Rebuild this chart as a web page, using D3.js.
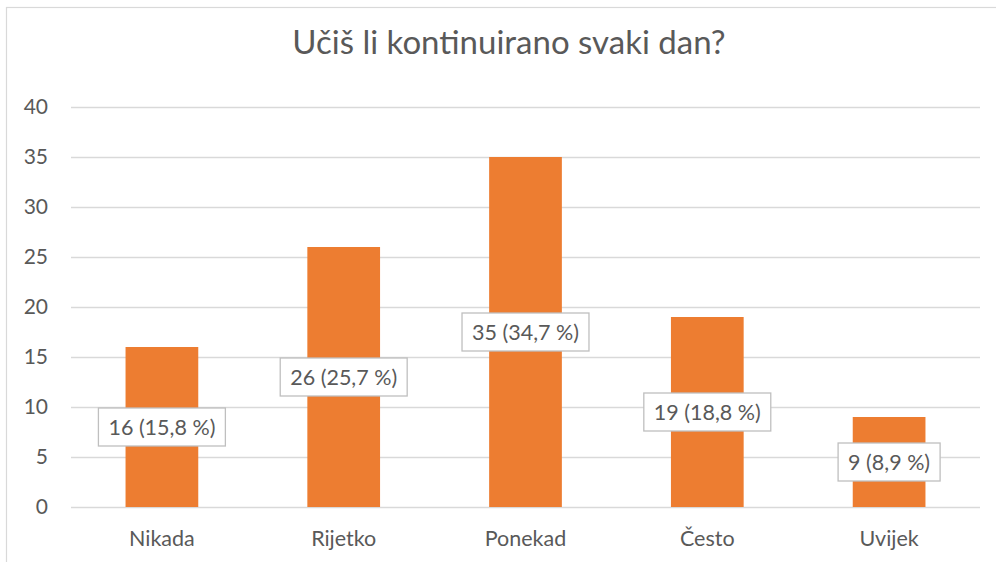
<!DOCTYPE html>
<html><head><meta charset="utf-8">
<script src="https://cdn.jsdelivr.net/npm/d3@7"></script>
<style>body{margin:0;background:#fff}svg{display:block}text{font-family:Lato,"Open Sans",sans-serif;fill:#595959}</style>
</head><body><svg id="c" width="996" height="562"></svg>
<script>
const title = "Učiš li kontinuirano svaki dan?";
const categories = ["Nikada","Rijetko","Ponekad","Često","Uvijek"];
const counts = [16,26,35,19,9];
const percents = ["15,8","25,7","34,7","18,8","8,9"];
const yTicks = [0,5,10,15,20,25,30,35,40];

const svg = d3.select("#c");
svg.append("rect").attr("x",6.5).attr("y",7.5).attr("width",1100).attr("height",600)
  .attr("fill","#fff").attr("stroke","#d9d9d9").attr("stroke-width",1.2);

const m = {left:71,right:980,top:107,bottom:507};
const x = d3.scaleBand().domain(categories).range([m.left,m.right]).paddingInner(0.6).paddingOuter(0.3);
const y = d3.scaleLinear().domain([0,40]).range([m.bottom,m.top]);

svg.append("text").attr("x",509).attr("y",54).attr("text-anchor","middle")
  .style("font-size","33px").text(title);

const ya = svg.append("g").attr("transform",`translate(${m.left},0)`)
  .call(d3.axisLeft(y).tickValues(yTicks).tickSize(-(m.right-m.left)).tickPadding(23));
ya.select(".domain").remove();
ya.selectAll(".tick line").attr("stroke","#d9d9d9").attr("stroke-width",1.3);
ya.selectAll(".tick text").style("font-size","21px").attr("fill","#595959").style("font-family","Lato");

svg.selectAll(".bar").data(counts).join("rect")
  .attr("x",(d,i)=>x(categories[i])).attr("width",x.bandwidth())
  .attr("y",d=>y(d)).attr("height",d=>y(0)-y(d)).attr("fill","#ed7d31");

const xa = svg.append("g").attr("transform",`translate(0,${m.bottom})`)
  .call(d3.axisBottom(x).tickSize(0).tickPadding(24));
xa.select(".domain").remove();
xa.selectAll(".tick text").style("font-size","21.5px").attr("fill","#595959").style("font-family","Lato");

const lab = svg.selectAll(".lab").data(counts).join("g")
  .attr("transform",(d,i)=>`translate(${x(categories[i])+x.bandwidth()/2},${(y(d)+y(0))/2})`);
const box = lab.append("rect").attr("fill","#fff").attr("stroke","#bfbfbf").attr("stroke-width",1.3);
const t = lab.append("text").attr("text-anchor","middle").attr("dy","0.36em").style("font-size","21.5px")
  .text((d,i)=>`${d} (${percents[i]} %)`);
t.each(function(){
  const w=this.getComputedTextLength();
  d3.select(this.previousSibling).attr("x",-w/2-10).attr("y",-19).attr("width",w+20).attr("height",38);
});
</script></body></html>
